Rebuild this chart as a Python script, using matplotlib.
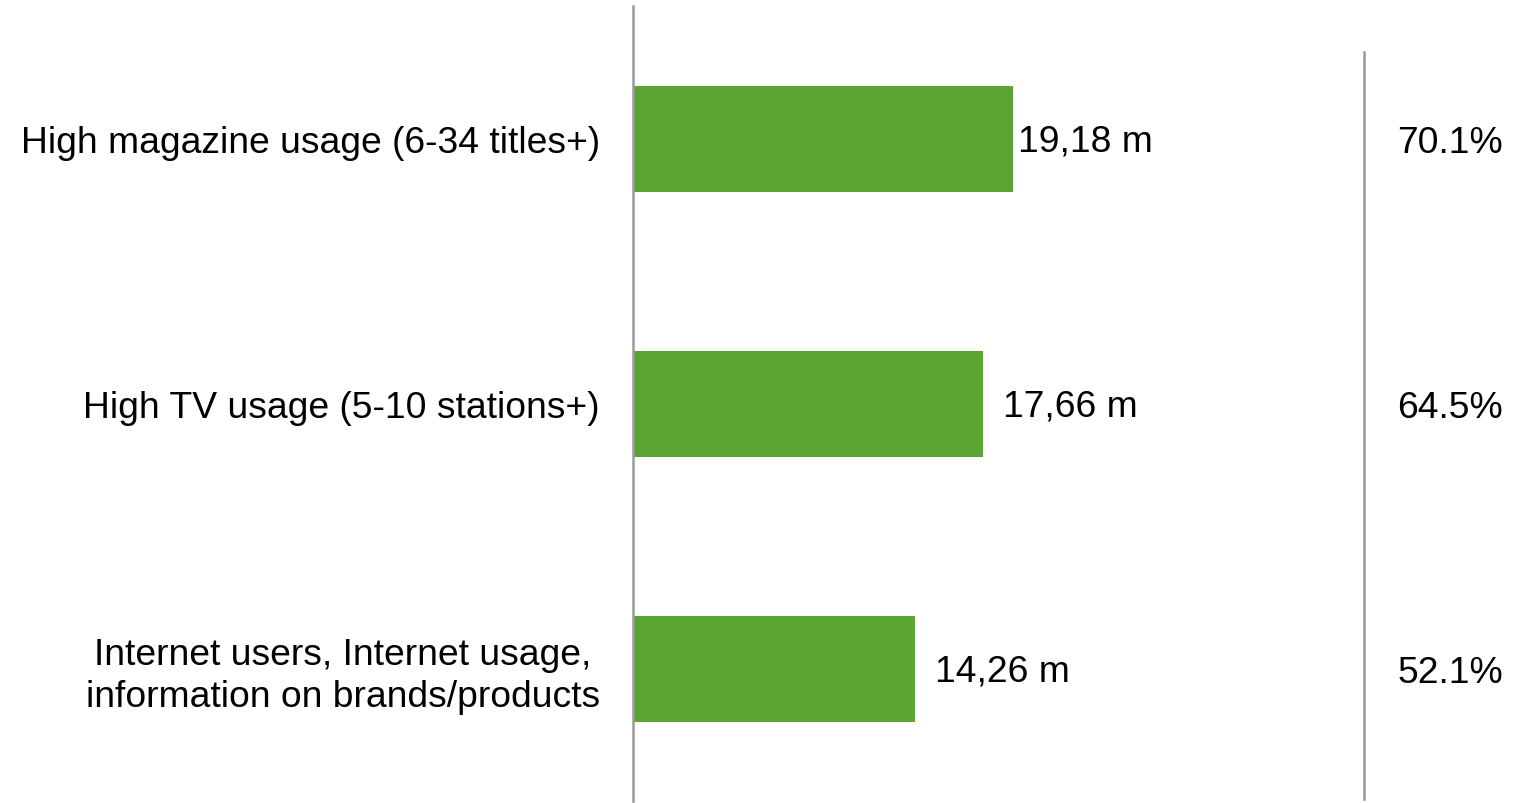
import matplotlib.pyplot as plt
from matplotlib.lines import Line2D

plt.rcParams["font.family"] = ["Liberation Sans", "DejaVu Sans"]

# data
categories = [
    "High magazine usage (6-34 titles+)",
    "High TV usage (5-10 stations+)",
    "Internet users, Internet usage,\ninformation on brands/products",
]
values = [19.18, 17.66, 14.26]
value_labels = ["19,18 m", "17,66 m", "14,26 m"]
shares = ["70.1%", "64.5%", "52.1%"]

GREEN = "#5BA632"
GREY = "#9a9a9a"
W, H = 1515, 804
FS = 26.8

fig = plt.figure(figsize=(W / 100, H / 100), dpi=100)
# axes: left spine at x=633px, y from 7px to 802px
ax = fig.add_axes([633 / W, 1 - 802 / H, (W - 633) / W, (802 - 7) / H])

pos = list(range(len(categories)))
ax.barh(pos, values, height=0.4, color=GREEN)
ax.set_xlim(0, (W - 633) / 19.8)
ax.set_ylim(2.5, -0.5)

for s in ["top", "right", "bottom"]:
    ax.spines[s].set_visible(False)
ax.spines["left"].set_color(GREY)
ax.spines["left"].set_linewidth(1.8)
ax.set_xticks([])
ax.set_yticks(pos)
ax.set_yticklabels(categories, fontsize=FS, multialignment="center", linespacing=1.25)
ax.tick_params(axis="y", length=0, pad=24)

# value labels next to bars
pads = [5, 20, 20]
for p, v, lab, pad in zip(pos, values, value_labels, pads):
    ax.annotate(lab, (v, p), xytext=(pad * 0.72, -1.5), textcoords="offset points",
                va="center", ha="left", fontsize=FS)

# separator line and share column
fig.add_artist(Line2D([1364 / W, 1364 / W], [1 - 800 / H, 1 - 53 / H],
                      color=GREY, linewidth=1.8))
for p, sh in zip(pos, shares):
    ax.annotate(sh, (0, p), xycoords=("figure fraction", "data"),
                xytext=(1503 / W, -3), textcoords=("figure fraction", "offset points"),
                ha="right", va="center", fontsize=FS)

fig.savefig("out.png", dpi=100)
